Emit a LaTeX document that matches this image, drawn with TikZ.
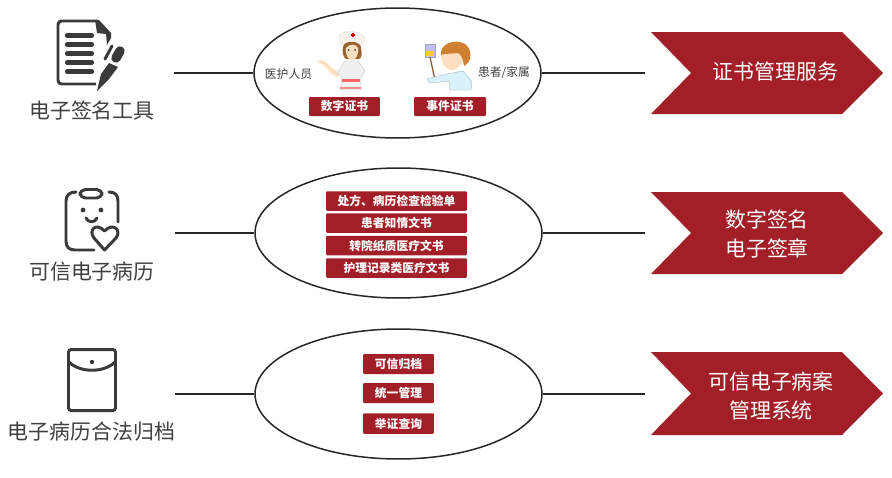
\documentclass[tikz,border=0pt]{standalone}
\usepackage{fontspec}
\usepackage{tikz}
\usepackage{color}
\usetikzlibrary{shapes.geometric}
\setmainfont{Noto Sans CJK SC}
\definecolor{darkred}{HTML}{A21F28}
\definecolor{icongray}{HTML}{3A3A3A}
\definecolor{labelgray}{HTML}{404040}
\tikzset{
  oval/.style={draw=black!85, line width=0.85pt, ellipse, minimum width=5.74cm, minimum height=2.6cm, inner sep=0},
  link/.style={black!85, line width=0.85pt},
  redbox/.style={fill=darkred, rounded corners=0.6pt, text=white, inner sep=0, font=\fontsize{6.7}{7}\selectfont\bfseries},
  toolname/.style={text=labelgray, inner sep=0, font=\fontsize{11.9}{13}\selectfont},
  smallname/.style={text=labelgray, inner sep=0, font=\fontsize{6.7}{8}\selectfont},
  arrowtext/.style={text=white, inner sep=0, align=center, font=\fontsize{11.9}{17}\selectfont},
  chevron/.style={fill=darkred, draw=none},
  iconline/.style={draw=icongray, line width=1.7pt, line cap=round, line join=round}
}
\begin{document}
\begin{tikzpicture}[x=0.02cm,y=-0.02cm]
\useasboundingbox (0,0) rectangle (892,477);

\node[toolname] (toolA) at (92,111) {电子签名工具};
\node[toolname] (toolB) at (92,272) {可信电子病历};
\node[toolname] (toolC) at (91.5,432) {电子病历合法归档};

\draw[icongray, line width=1.7pt, line join=round, rounded corners=2pt] (98,21) -- (58,21) -- (58,84) -- (96,84);
\fill[icongray] (95,20) -- (99,20) -- (111,33) -- (111,38) -- (107,45) -- (106,34) -- (97,33) -- cycle;
\draw[icongray, line width=2.3pt, line cap=round] (67,35.5) -- (92,35.5);
\draw[icongray, line width=2.3pt, line cap=round] (67,44.5) -- (92,44.5);
\draw[icongray, line width=2.3pt, line cap=round] (67,53.5) -- (92,53.5);
\draw[icongray, line width=2.3pt, line cap=round] (67,62.5) -- (92,62.5);
\draw[icongray, line width=2.3pt, line cap=round] (67,71.5) -- (92,71.5);
\draw[icongray, line width=1.7pt, line cap=round] (112,46) -- (105,59);
\draw[icongray, line width=5.4pt, line cap=round] (120,51) -- (116,58);
\fill[icongray] (97,91) -- (101,74) -- (109,63) -- (118,67) -- (109,79) -- cycle;

\draw[iconline] (76,192) .. controls (70,192) and (66,195) .. (66,201) -- (66,241) .. controls (66,247) and (69,250) .. (75,250) -- (94,250);
\draw[iconline] (109,192) .. controls (115,192) and (118,195) .. (118,201) -- (118,222);
\draw[iconline, rounded corners=3pt] (80,189.5) rectangle (102,198);
\fill[icongray] (83,210) circle (2.4);
\fill[icongray] (101,210) circle (2.4);
\draw[iconline] (86,218) .. controls (88,223) and (95,223) .. (97,218);
\draw[iconline] (104.5,250) -- (94,238) .. controls (88,230) and (96,222) .. (104.5,231) .. controls (113,222) and (122,230) .. (116,238) -- cycle;

\draw[iconline, rounded corners=1.5pt] (68.5,349.5) rectangle (115.5,410.5);
\draw[iconline] (69,362) .. controls (80,373) and (104,373) .. (115,362);
\fill[icongray] (92,362) circle (2.2);

\node[oval] (ovalA) at (397.5,73) {};
\node[oval] (ovalB) at (398.5,233) {};
\node[oval] (ovalC) at (398.5,394) {};

\coordinate (startA) at (174,73);
\coordinate (startB) at (175,233);
\coordinate (startC) at (175,394);
\coordinate (endA) at (645,73);
\coordinate (endB) at (645,233);
\coordinate (endC) at (645,394);
\draw[link] (startA) -- (ovalA.west);
\draw[link] (startB) -- (ovalB.west);
\draw[link] (startC) -- (ovalC.west);
\draw[link] (ovalA.east) -- (endA);
\draw[link] (ovalB.east) -- (endB);
\draw[link] (ovalC.east) -- (endC);

\node[smallname] (staff) at (288.5,74) {医护人员};
\node[smallname] (patient) at (504,73) {患者/家属};
\node[redbox, minimum width=1.42cm, minimum height=0.38cm] (certA) at (344.5,106.5) {数字证书};
\node[redbox, minimum width=1.44cm, minimum height=0.38cm] (certB) at (450,106.5) {事件证书};

\fill[white!90!brown, draw=black!15, line width=0.2pt] (339,36) .. controls (342,30) and (358,29) .. (365,38) .. controls (364,44) and (360,46) .. (359,48) -- (344,48) .. controls (342,45) and (339,43) .. (339,36) -- cycle;
\fill[red!85!black] (351,33.5) rectangle (355,35.5);
\fill[red!85!black] (352,32.5) rectangle (354,36.5);
\fill[brown!80!black] (343,47) .. controls (344,40) and (359,40) .. (361,47) .. controls (362,54) and (362,58) .. (359,59) -- (346,59) .. controls (343,57) and (342,52) .. (343,47) -- cycle;
\fill[orange!25!white] (346,48) .. controls (350,43) and (356,44) .. (358,48) .. controls (359,56) and (355,60) .. (352,60) .. controls (349,60) and (345,56) .. (346,48) -- cycle;
\fill[teal!70!black] (348.5,50) circle (1);
\fill[teal!70!black] (355,50) circle (1);
\fill[orange!25!white] (317,61) -- (323,60) -- (335,70) -- (340,73) -- (338,77) -- (333,75) -- (323,65) -- cycle;
\fill[black!6, draw=black!25, line width=0.2pt] (345,61) -- (358,61) -- (365,71) -- (361,77) -- (361,90) -- (340,90) -- (342,77) -- (337,73) -- cycle;
\fill[red!60!white] (342,79) rectangle (360,81.5);
\fill[red!45!white] (340,87) rectangle (361,89);

\fill[blue!25!white, draw=black!35, line width=0.2pt] (425,44) rectangle (435,57);
\fill[yellow!70!orange] (426,51) rectangle (434,56);
\draw[brown!70!black, line width=0.7pt] (430,57) -- (435,80);
\fill[cyan!15!white, draw=cyan!40!black!50, line width=0.2pt] (427,79) -- (447,74) -- (463,71) -- (472,82) -- (471,90) -- (450,90) -- (449,81) -- (430,83) -- cycle;
\fill[orange!25!white] (441,56) .. controls (441,48) and (463,47) .. (463,58) .. controls (463,66) and (455,71) .. (450,70) .. controls (445,69) and (441,63) .. (441,56) -- cycle;
\fill[brown!75!orange] (441,55) .. controls (439,44) and (455,38) .. (465,44) .. controls (473,50) and (472,62) .. (464,66) .. controls (463,60) and (462,55) .. (458,53) .. controls (452,54) and (446,53) .. (441,55) -- cycle;

\node[redbox, minimum width=2.82cm, minimum height=0.39cm] (docA) at (396.5,201) {处方、病历检查检验单};
\node[redbox, minimum width=2.82cm, minimum height=0.39cm] (docB) at (396.5,223) {患者知情文书};
\node[redbox, minimum width=2.82cm, minimum height=0.39cm] (docC) at (396.5,245.5) {转院纸质医疗文书};
\node[redbox, minimum width=2.82cm, minimum height=0.39cm] (docD) at (396.5,268) {护理记录类医疗文书};

\node[redbox, minimum width=1.42cm, minimum height=0.4cm] (archA) at (398.5,364) {可信归档};
\node[redbox, minimum width=1.42cm, minimum height=0.4cm] (archB) at (398.5,393) {统一管理};
\node[redbox, minimum width=1.42cm, minimum height=0.41cm] (archC) at (398.5,423.5) {举证查询};

\fill[chevron] (651,32) -- (842,32) -- (883,73) -- (842,114) -- (651,114) -- (691,73) -- cycle;
\fill[chevron] (651,192) -- (842,192) -- (883,233) -- (842,274) -- (651,274) -- (691,233) -- cycle;
\fill[chevron] (651,352) -- (842,352) -- (883,393.5) -- (842,435) -- (651,435) -- (691,393.5) -- cycle;

\node[arrowtext] (serviceA) at (775.5,72) {证书管理服务};
\node[arrowtext] (serviceB) at (767,234) {数字签名\\电子签章};
\node[arrowtext] (serviceC) at (771,396) {可信电子病案\\管理系统};

\end{tikzpicture}
\end{document}
